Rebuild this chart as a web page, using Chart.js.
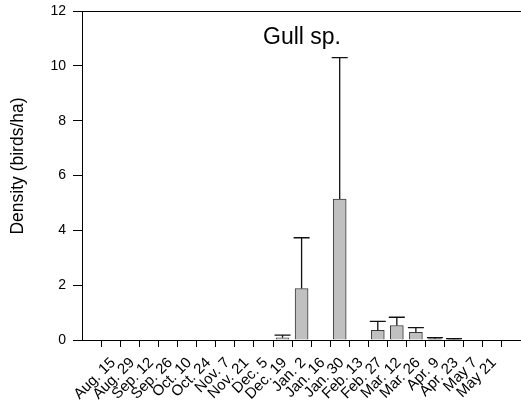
<!DOCTYPE html>
<html>
<head>
<meta charset="utf-8">
<script src="https://cdn.jsdelivr.net/npm/chart.js@4.4.1/dist/chart.umd.min.js"></script>
<style>
  html, body { margin: 0; padding: 0; background: #fff; }
  #wrap { width: 521px; height: 414px; }
</style>
</head>
<body>
<div id="wrap"><canvas id="gullChart"></canvas></div>
<script>
// --- Data ---
const dates = ['Aug. 15', 'Aug. 29', 'Sep. 12', 'Sep. 26', 'Oct. 10', 'Oct. 24', 'Nov. 7',
    'Nov. 21', 'Dec. 5', 'Dec. 19', 'Jan. 2', 'Jan. 16', 'Jan. 30', 'Feb. 13', 'Feb. 27',
    'Mar. 12', 'Mar. 26', 'Apr. 9', 'Apr. 23', 'May 7', 'May 21'];
const density = [0, 0, 0, 0, 0, 0, 0, 0, 0, 0.08, 1.88, 0, 5.14, 0, 0.35, 0.53, 0.28, 0.05, 0.02, 0, 0];
const errorUp = [0, 0, 0, 0, 0, 0, 0, 0, 0, 0.10, 1.85, 0, 5.16, 0, 0.33, 0.30, 0.17, 0.04, 0.03, 0, 0];
const yTicks = [0, 2, 4, 6, 8, 10, 12];
const chartTitle = 'Gull sp.';
const yTitle = 'Density (birds/ha)';

const FONT = 'Liberation Sans, Arial, Helvetica, sans-serif';

// error whiskers, frame top line and the two titles
const extras = {
    id: 'extras',
    afterDatasetsDraw(chart) {
        const { ctx, chartArea, scales: { x, y } } = chart;
        ctx.save();
        ctx.strokeStyle = '#111';
        ctx.lineWidth = 1.3;
        density.forEach((v, i) => {
            const e = errorUp[i];
            if (!e) return;
            const px = x.getPixelForValue(i);
            const y0 = y.getPixelForValue(v);
            const y1 = y.getPixelForValue(v + e);
            ctx.beginPath();
            ctx.moveTo(px, y0);
            ctx.lineTo(px, y1);
            ctx.moveTo(px - 8, y1);
            ctx.lineTo(px + 8, y1);
            ctx.stroke();
        });

        // top line of the frame
        ctx.strokeStyle = '#000';
        ctx.lineWidth = 1;
        ctx.beginPath();
        ctx.moveTo(chartArea.left, chartArea.top + 0.5);
        ctx.lineTo(chartArea.right, chartArea.top + 0.5);
        ctx.stroke();

        ctx.fillStyle = '#000';
        ctx.textAlign = 'center';
        ctx.textBaseline = 'alphabetic';
        ctx.font = '23px ' + FONT;
        ctx.fillText(chartTitle, 302, 44);

        ctx.translate(23, 166);
        ctx.rotate(-Math.PI / 2);
        ctx.font = '17.5px ' + FONT;
        ctx.fillText(yTitle, 0, 0);
        ctx.restore();
    }
};

new Chart(document.getElementById('gullChart'), {
    type: 'bar',
    data: {
        datasets: [{
            data: density.map((v, i) => ({ x: i, y: v })),
            backgroundColor: '#c0c0c0',
            borderColor: '#3a3a3a',
            borderWidth: 1,
            borderSkipped: 'bottom',
            barThickness: 13
        }]
    },
    options: {
        responsive: true,
        maintainAspectRatio: false,
        animation: false,
        layout: { padding: { top: 11, right: 0, left: 0, bottom: 0 } },
        plugins: { legend: { display: false }, tooltip: { enabled: false } },
        scales: {
            x: {
                type: 'linear',
                min: -0.98,
                max: 20.97,
                afterBuildTicks: (scale) => { scale.ticks = dates.map((d, i) => ({ value: i })); },
                afterFit: (scale) => { scale.height = 74; },
                grid: { drawOnChartArea: false, drawTicks: true, tickLength: 7, color: '#000' },
                border: { color: '#000', width: 1 },
                ticks: {
                    autoSkip: false,
                    minRotation: 45,
                    maxRotation: 45,
                    padding: 7,
                    labelOffset: 2,
                    color: '#000',
                    font: { family: FONT, size: 15 },
                    callback: (v) => dates[v]
                }
            },
            y: {
                min: 0,
                max: 12,
                afterBuildTicks: (scale) => { scale.ticks = yTicks.map(v => ({ value: v })); },
                afterFit: (scale) => {
                    scale.width = 82;
                    scale.paddingTop = 0;
                    scale.paddingBottom = 0;
                },
                grid: { drawOnChartArea: false, drawTicks: true, tickLength: 9, color: '#000' },
                border: { color: '#000', width: 1 },
                ticks: {
                    padding: 7,
                    color: '#000',
                    font: { family: FONT, size: 14 }
                }
            }
        }
    },
    plugins: [extras]
});
</script>
</body>
</html>
